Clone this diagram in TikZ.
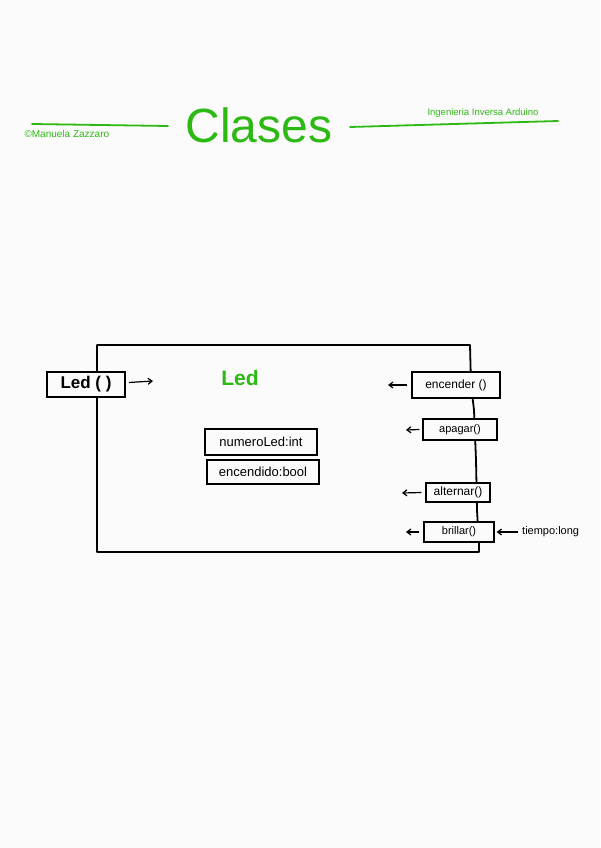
\documentclass[tikz,border=0pt]{standalone}
\usepackage{fontspec}
\setmainfont{Liberation Sans}
\usetikzlibrary{arrows.meta}
\definecolor{hgreen}{RGB}{45,185,20}
\definecolor{paper}{RGB}{251,251,251}
\tikzset{
  box/.style={draw=black, fill=paper, inner sep=0pt, line width=1.3pt, font=\fontsize{12}{14}\selectfont},
  attr/.style={box, font=\fontsize{13}{15}\selectfont},
  harrow/.style={-{Straight Barb[length=4pt,width=6pt]}, line width=1.2pt},
  frame/.style={line width=1.8pt, line join=round},
  gline/.style={hgreen, line width=1.8pt, line cap=round}
}
\begin{document}
\begin{tikzpicture}[x=1pt,y=-1pt]
\useasboundingbox[fill=paper] (0,0) rectangle (600,848);
% header
\coordinate (l1) at (32,124);
\coordinate (l2) at (168,126);
\coordinate (r1) at (350,127);
\coordinate (r2) at (558,121);
\draw[gline] (l1) -- (l2);
\draw[gline] (r1) -- (r2);
\node[hgreen, font=\fontsize{48}{50}\selectfont] (title) at (259,125) {Clases};
\node[hgreen, font=\fontsize{10}{12}\selectfont, anchor=west] (author) at (21,134) {©Manuela Zazzaro};
\node[hgreen, font=\fontsize{9.5}{11}\selectfont, anchor=west] (proj) at (424,113) {Ingenieria Inversa Arduino};
% class frame
\coordinate (f1) at (97,552);
\coordinate (f2) at (97,345);
\coordinate (f3) at (470,345);
\coordinate (f4) at (471,385);
\coordinate (f5) at (474,410);
\coordinate (f6) at (476,460);
\coordinate (f7) at (477,510);
\coordinate (f8) at (479,545);
\coordinate (f9) at (479,552);
\draw[frame] (f1) -- (f2) -- (f3) -- (f4) -- (f5) -- (f6) -- (f7) -- (f8) -- (f9) -- cycle;
% class name
\node[hgreen, font=\bfseries\fontsize{21}{23}\selectfont] (cname) at (240,378) {Led};
% constructor
\node[box, line width=1.8pt, minimum width=78pt, minimum height=25pt, font=\bfseries\fontsize{17}{19}\selectfont] (ctor) at (86,384.5) {Led ( )};
\coordinate (ctorend) at (153,381);
\draw[harrow] (ctor.east) ++(3,-2) -- (ctorend);
% attributes
\node[attr, minimum width=112pt, minimum height=26pt] (a1) at (261,442) {numeroLed:int};
\node[attr, minimum width=112pt, minimum height=24pt] (a2) at (263,472) {encendido:bool};
% methods
\node[box, minimum width=88pt, minimum height=26pt] (m1) at (456,385) {encender ()};
\node[box, minimum width=74pt, minimum height=21pt, font=\fontsize{11}{13}\selectfont] (m2) at (460,429.5) {apagar()};
\node[box, minimum width=64pt, minimum height=19pt] (m3) at (458,492.5) {alternar()};
\node[box, minimum width=70pt, minimum height=20pt, font=\fontsize{11}{13}\selectfont] (m4) at (459,532) {brillar()};
\coordinate (e1) at (388,385);
\coordinate (e2) at (406,430);
\coordinate (e3) at (402,493);
\coordinate (e4) at (406,532);
\draw[harrow] (m1.west) ++(-4,0) -- (e1);
\draw[harrow] (m2.west) ++(-3,0) -- (e2);
\draw[harrow] (m3.west) ++(-4,0) -- (e3);
\draw[harrow] (m4.west) ++(-4,0) -- (e4);
\node[font=\fontsize{11}{13}\selectfont, anchor=west, inner sep=0pt] (param) at (522,532) {tiempo:long};
\draw[harrow] (param.west) ++(-4,0) -- ([xshift=2pt]m4.east);
\end{tikzpicture}
\end{document}
